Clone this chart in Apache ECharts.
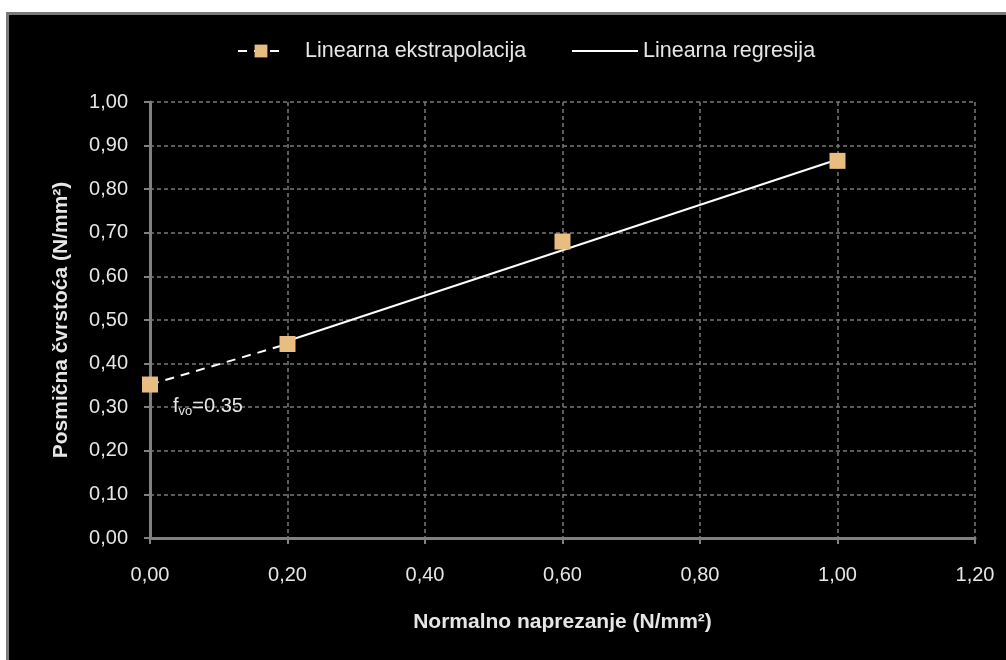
<!DOCTYPE html>
<html><head><meta charset="utf-8">
<script src="https://cdn.jsdelivr.net/npm/echarts@6/dist/echarts.min.js"></script>
<style>html,body{margin:0;padding:0;background:#fff;}#c{width:1006px;height:660px;}</style>
</head><body><div id="c"></div>
<script>
// Data
const extrapX = [0.00, 0.20, 0.60, 1.00];
const extrapY = [0.352, 0.445, 0.680, 0.865];
const regX = [0.20, 1.00];
const regY = [0.452, 0.868];
const xTicks = ['0,00','0,20','0,40','0,60','0,80','1,00','1,20'];
const yTicks = ['0,00','0,10','0,20','0,30','0,40','0,50','0,60','0,70','0,80','0,90','1,00'];
const seriesNames = ['Linearna ekstrapolacija', 'Linearna regresija'];

const FONT = "'Liberation Sans Narrow','Arial Narrow','Liberation Sans',sans-serif";
const TXT = '#e6e6e6';

// extrapolation: dashed segment only between first two points, isolated markers after
const extrapData = [];
extrapX.forEach((x, i) => {
  if (i >= 2) extrapData.push([(extrapX[i-1] + x) / 2, '-']);
  extrapData.push([x, extrapY[i]]);
});
extrapData[0] = {
  value: extrapData[0],
  label: {
    show: true, position: 'right', offset: [10, 22],
    formatter: '{a|f}{s|vo}{a|=0.35}',
    rich: {
      a: {color: TXT, fontSize: 20, fontFamily: FONT},
      s: {color: TXT, fontSize: 13, fontFamily: FONT, padding: [10, 0, 0, 0]}
    }
  }
};

const legendText = {color: TXT, fontSize: 21.5, fontFamily: FONT};

const chart = echarts.init(document.getElementById('c'));
chart.setOption({
  backgroundColor: '#ffffff',
  animation: false,
  graphic: {elements: [{
    type: 'rect', z: -100, silent: true,
    shape: {x: 7.5, y: 13.5, width: 1010, height: 660},
    style: {fill: '#000000', stroke: '#7a7a7a', lineWidth: 3}
  }]},
  legend: [
    {
      top: 35, left: 232, itemWidth: 46, itemHeight: 16,
      textStyle: Object.assign({padding: [0, 0, 0, 16]}, legendText),
      data: [seriesNames[0]]
    },
    {
      top: 35, left: 566, itemWidth: 66, itemHeight: 16,
      textStyle: legendText,
      data: [{name: seriesNames[1], itemStyle: {opacity: 0}}]
    }
  ],
  grid: {left: 150, right: 31, top: 102, bottom: 122},
  xAxis: {
    type: 'value', min: 0, max: 1.2, interval: 0.2,
    name: 'Normalno naprezanje (N/mm²)', nameLocation: 'middle', nameGap: 74,
    nameTextStyle: {color: TXT, fontSize: 21, fontWeight: 'bold', fontFamily: FONT},
    axisLine: {show: true, onZero: false, lineStyle: {color: '#808080', width: 3}},
    axisTick: {show: true, length: 6, lineStyle: {color: '#808080', width: 2}},
    axisLabel: {color: TXT, fontSize: 20, fontFamily: FONT, margin: 27,
      formatter: v => xTicks[Math.round(v / 0.2)]},
    splitLine: {show: true, lineStyle: {color: '#7a7a7a', type: [4, 3], width: 1.5}}
  },
  yAxis: {
    type: 'value', min: 0, max: 1.0, interval: 0.1,
    name: 'Posmična čvrstoća (N/mm²)', nameLocation: 'middle', nameGap: 78,
    nameTextStyle: {color: TXT, fontSize: 21, fontWeight: 'bold', fontFamily: FONT},
    axisLine: {show: true, lineStyle: {color: '#808080', width: 3}},
    axisTick: {show: true, length: 6, lineStyle: {color: '#808080', width: 2}},
    axisLabel: {color: TXT, fontSize: 20, fontFamily: FONT, margin: 22,
      formatter: v => yTicks[Math.round(v / 0.1)]},
    splitLine: {show: true, lineStyle: {color: '#7a7a7a', type: [4, 3], width: 1.5}}
  },
  series: [
    {
      name: seriesNames[1], type: 'line', z: 2,
      data: regX.map((x, i) => [x, regY[i]]),
      showSymbol: false, symbol: 'none',
      lineStyle: {color: '#ffffff', width: 2},
      itemStyle: {color: 'rgba(0,0,0,0)'}
    },
    {
      name: seriesNames[0], type: 'line', z: 3,
      data: extrapData, connectNulls: false,
      symbol: 'rect', symbolSize: 16, showSymbol: true,
      lineStyle: {color: '#ffffff', width: 2, type: [9, 7]},
      itemStyle: {color: '#e8bd82'}
    }
  ]
});
</script></body></html>
